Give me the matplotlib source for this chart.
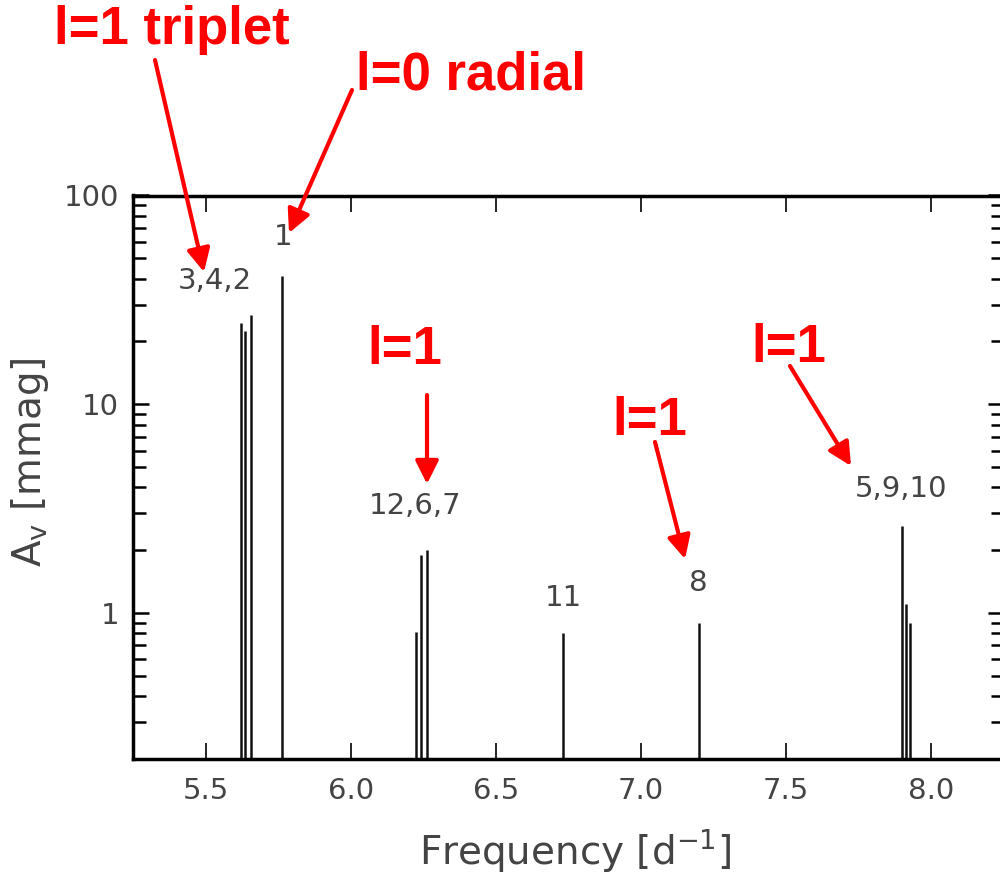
import numpy as np
import matplotlib
matplotlib.use("Agg")
import matplotlib.pyplot as plt
from matplotlib.ticker import LogLocator, NullFormatter, FixedLocator

# peak frequencies [1/d] and amplitudes [mmag]
freq = [5.765, 5.658, 5.623, 5.637, 7.900, 6.241, 6.264, 7.202, 7.915, 7.929, 6.733, 6.226]
amp = [41.2, 26.8, 24.5, 22.5, 2.60, 1.90, 2.01, 0.90, 1.10, 0.90, 0.80, 0.81]

# group labels (text only)
group_text = ["3,4,2", "1", "12,6,7", "11", "8", "5,9,10"]
group_pos = [(5.531, 38.8), (5.766, 63.2), (6.224, 3.27), (6.733, 1.18), (7.199, 1.39), (7.896, 3.95)]

xticks = [5.5, 6.0, 6.5, 7.0, 7.5, 8.0]
ytick_labels = {1: "1", 10: "10", 100: "100"}

# red annotations: text, text position (px), arrow tail (px), arrow tip (px)
notes = [
    ("l=1 triplet", (172, 30), (155, 60), (204, 272)),
    ("l=0 radial", (471, 75), (352, 90), (289, 233)),
    ("l=1", (405, 350), (427, 395), (427, 484)),
    ("l=1", (650, 421), (655, 442), (685, 559)),
    ("l=1", (789, 348), (790, 366), (851, 466)),
]

W, H = 1000, 873
fig = plt.figure(figsize=(W / 100, H / 100), dpi=100)
ax_left, ax_right, ax_top, ax_bot = 133, 1003.5, 195.5, 759
ax = fig.add_axes([ax_left / W, 1 - ax_bot / H, (ax_right - ax_left) / W, (ax_bot - ax_top) / H])

ax.vlines(freq, 0.2, amp, color="#111111", lw=1.8)

ax.set_yscale("log")
ax.set_xlim(5.25, 8.25)
ax.set_ylim(0.2, 100)

gray = "#444444"
ax.xaxis.set_major_locator(FixedLocator(xticks))
ax.set_xticklabels([f"{t:.1f}" for t in xticks])
ax.yaxis.set_major_locator(FixedLocator(list(ytick_labels.keys())))
ax.set_yticklabels(list(ytick_labels.values()))
ax.yaxis.set_minor_locator(LogLocator(base=10, subs=np.arange(2, 10)))
ax.yaxis.set_minor_formatter(NullFormatter())

ax.tick_params(axis="both", which="both", direction="in", top=True, right=True,
               colors="black", labelcolor=gray, labelsize=21)
ax.tick_params(axis="x", which="major", length=11.5, width=1.2, pad=13)
ax.tick_params(axis="y", which="major", length=11.5, width=1.8, pad=10)
ax.tick_params(axis="y", which="minor", length=9.5, width=1.8)
for s in ax.spines.values():
    s.set_linewidth(2.5)

for t, (x, y) in zip(group_text, group_pos):
    ax.text(x, y, t, ha="center", va="center", color=gray, fontsize=21)

fig.text(575 / W, 1 - 850 / H, "Frequency [d$^{-1}$]", ha="center", va="center",
         color=gray, fontsize=28)
fig.text(30 / W, 1 - 462 / H, "A$_\\mathrm{v}$ [mmag]", ha="center", va="center",
         color=gray, fontsize=28, rotation=90)

def px(p):
    return (p[0] / W, 1 - p[1] / H)

for text, tpos, tail, tip in notes:
    fig.text(*px(tpos), text, ha="center", va="center", color="red",
             fontsize=38, fontweight="bold", family="Liberation Sans")
    fig.add_artist(matplotlib.patches.FancyArrowPatch(
        px(tail), px(tip), transform=fig.transFigure, arrowstyle="-|>,head_length=14,head_width=7",
        color="red", lw=3, mutation_scale=1, shrinkA=0, shrinkB=0))

fig.savefig("out.png", dpi=100)
